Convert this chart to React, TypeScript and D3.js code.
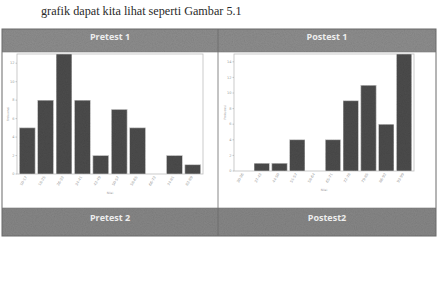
import React from "react";
import * as d3 from "d3";

const intro = "grafik dapat kita lihat seperti Gambar 5.1";
const headersTop = ["Pretest 1", "Postest 1"];
const headersBottom = ["Pretest 2", "Postest2"];

const pretestLabels = ["10-17", "18-25", "26-33", "34-41", "42-49", "50-57", "58-65", "66-73", "74-81", "82-89"];
const pretestValues = [5, 8, 13, 8, 2, 7, 5, 0, 2, 1];
const pretestTicks = [0, 2, 4, 6, 8, 10, 12];

const postestLabels = ["30-36", "37-43", "44-50", "51-57", "58-64", "65-71", "72-78", "79-85", "86-92", "93-99"];
const postestValues = [0, 1, 1, 4, 0, 4, 9, 11, 6, 15];
const postestTicks = [0, 2, 4, 6, 8, 10, 12, 14];

type PlotProps = {
  x0: number; x1: number; y0: number; y1: number;
  labels: string[]; values: number[]; ticks: number[]; max: number;
};

function Plot({ x0, x1, y0, y1, labels, values, ticks, max }: PlotProps) {
  const x = d3.scaleBand<string>().domain(labels).range([x0 + 1, x1 - 1]).paddingInner(0.14).paddingOuter(0.07);
  const y = d3.scaleLinear().domain([0, max]).range([y1, y0]);
  return (
    <g>
      <rect x={x0} y={y0} width={x1 - x0} height={y1 - y0} fill="#fff" stroke="#bdbdbd" strokeWidth={0.8} />
      {ticks.map((t) => (
        <g key={t}>
          <line x1={x0 - 1.5} x2={x0} y1={y(t)} y2={y(t)} stroke="#999" strokeWidth={0.5} />
          <text x={x0 - 2.5} y={y(t) + 1.2} fontSize={3.5} textAnchor="end" fill="#9a9a9a" fontFamily="DejaVu Sans">{t}</text>
        </g>
      ))}
      {labels.map((l, i) => (
        <rect key={l} x={x(l)} y={y(values[i])} width={x.bandwidth()} height={y1 - y(values[i])}
          fill="#4c4c4c" stroke="#d8d8d8" strokeWidth={0.6} filter="url(#grain)" />
      ))}
      {labels.map((l) => {
        const cx = (x(l) as number) + x.bandwidth() / 2;
        return (
          <text key={"t" + l} transform={`translate(${cx},${y1 + 3}) rotate(-60)`} fontSize={3.6}
            textAnchor="end" fill="#9a9a9a" fontFamily="DejaVu Sans">{l}</text>
        );
      })}
      <text transform={`translate(${x0 - 8},${(y0 + y1) / 2}) rotate(-90)`} fontSize={3} textAnchor="middle" fill="#999" fontFamily="DejaVu Sans">Frekuensi</text>
      <text x={(x0 + x1) / 2} y={y1 + 20} fontSize={3} textAnchor="middle" fill="#999" fontFamily="DejaVu Sans">Nilai</text>
    </g>
  );
}

export default function App() {
  const L = 2, R = 436, M = 218, T = 29, HB = 52, BT = 208, B = 236;
  return (
    <svg width={439} height={302} style={{ position: "absolute", left: 0, top: 0, background: "#fff" }}>
      <defs>
        <filter id="grain" x="0" y="0" width="100%" height="100%">
          <feTurbulence type="fractalNoise" baseFrequency="0.9" numOctaves={2} seed={3} result="n" />
          <feColorMatrix in="n" type="saturate" values="0" result="g" />
          <feComponentTransfer in="g" result="g2">
            <feFuncA type="linear" slope={0.35} />
          </feComponentTransfer>
          <feComposite in="g2" in2="SourceGraphic" operator="in" result="c" />
          <feBlend in="SourceGraphic" in2="c" mode="multiply" />
        </filter>
      </defs>
      <rect width={439} height={302} fill="#fff" />
      <text x={41} y={15} fontSize={12.2} fontFamily="Liberation Serif" fill="#2a2a2a">{intro}</text>

      <rect x={L} y={T} width={R - L} height={HB - T} fill="#8d8d8d" filter="url(#grain)" />
      <rect x={L} y={BT} width={R - L} height={B - BT} fill="#868686" filter="url(#grain)" />
      <rect x={L} y={T} width={R - L} height={B - T} fill="none" stroke="#6a6a6a" strokeWidth={1} />
      <line x1={M} x2={M} y1={T} y2={B} stroke="#6a6a6a" strokeWidth={0.8} />
      <line x1={L} x2={R} y1={HB} y2={HB} stroke="#777" strokeWidth={0.6} />
      <line x1={L} x2={R} y1={BT} y2={BT} stroke="#777" strokeWidth={0.6} />

      {headersTop.map((h, i) => (
        <text key={h} x={i === 0 ? (L + M) / 2 : (M + R) / 2} y={40} fontSize={9} fontWeight="bold"
          textAnchor="middle" fill="#ededed" fontFamily="Open Sans">{h}</text>
      ))}
      {headersBottom.map((h, i) => (
        <text key={h} x={i === 0 ? (L + M) / 2 : (M + R) / 2} y={221} fontSize={9} fontWeight="bold"
          textAnchor="middle" fill="#ededed" fontFamily="Open Sans">{h}</text>
      ))}

      <Plot x0={17} x1={203} y0={54} y1={174} labels={pretestLabels} values={pretestValues} ticks={pretestTicks} max={13} />
      <Plot x0={234} x1={414} y0={54} y1={171} labels={postestLabels} values={postestValues} ticks={postestTicks} max={15} />
    </svg>
  );
}
